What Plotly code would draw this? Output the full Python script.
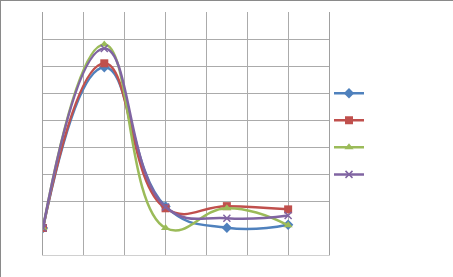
import plotly.graph_objects as go

x_vals = [0, 1.5, 3, 4.5, 6]
series_names = ["", "", "", ""]
blue = [0.0, 5.95, 0.8, 0.01, 0.12]
red = [0.0, 6.1, 0.73, 0.81, 0.69]
green = [0.0, 6.8, 0.0, 0.73, 0.1]
purple = [0.0, 6.65, 0.78, 0.36, 0.46]

colors = ["#4F81BD", "#C0504D", "#9BBB59", "#8064A2"]
symbols = ["diamond", "square", "triangle-up", "x-thin-open"]
data = [blue, red, green, purple]

fig = go.Figure()
for name, ys, c, s in zip(series_names, data, colors, symbols):
    fig.add_trace(go.Scatter(
        x=x_vals, y=ys, name=name, mode="lines+markers",
        line=dict(color=c, width=2.5, shape="spline", smoothing=1.3),
        marker=dict(symbol=s, size=8 if s != "x-thin-open" else 7, color=c,
                    line=dict(color=c, width=1.5 if s == "x-thin-open" else 0)),
    ))

grid = "#ababab"
fig.update_layout(
    width=453, height=277,
    margin=dict(l=43, r=124, t=12, b=22),
    paper_bgcolor="white", plot_bgcolor="white",
    showlegend=True,
    legend=dict(x=1.0, xanchor="left", y=0.497, yanchor="middle",
                font=dict(size=18.5, color="white"), bgcolor="rgba(0,0,0,0)",
                itemwidth=30, tracegroupgap=0),
    xaxis=dict(range=[0, 7], dtick=1, tick0=0, showgrid=True, gridcolor=grid,
               gridwidth=1, showticklabels=False, zeroline=False,
               showline=True, linecolor="#d0d0d0", ticks=""),
    yaxis=dict(range=[-1, 8], tickvals=[-1, 1, 2, 3, 4, 5, 6, 7], showgrid=True,
               gridcolor=grid, gridwidth=1, showticklabels=False, zeroline=False,
               showline=True, mirror=True, linecolor="#a0a0a0", ticks=""),
    shapes=[
        dict(type="line", xref="paper", yref="paper", x0=-43/286, x1=410/286,
             y0=254.5/243, y1=254.5/243, line=dict(color="#8a8a8a", width=1)),
        dict(type="line", xref="paper", yref="paper", x0=-42.5/286, x1=-42.5/286,
             y0=-22/243, y1=255/243, line=dict(color="#8a8a8a", width=1)),
    ],
)
fig.write_html("out.html")
